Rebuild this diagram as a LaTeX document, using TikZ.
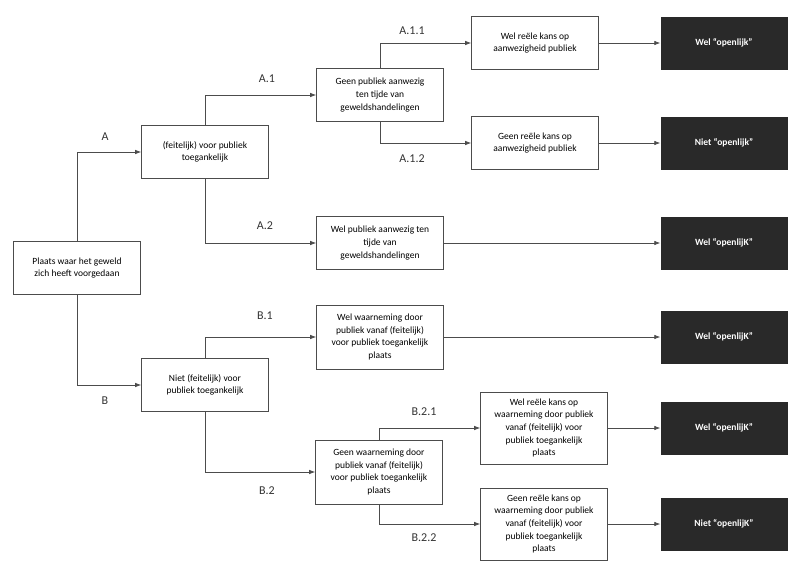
\documentclass[tikz,border=0pt]{standalone}
\usepackage{fontspec}
\setmainfont{Carlito}
\usetikzlibrary{arrows.meta}
\begin{document}
\begin{tikzpicture}
	[x=1pt,y=-1pt,
	every node/.style={font=\fontsize{9.5}{12.6}\selectfont},
	box/.style={draw=black!70,line width=0.7pt,fill=white,align=center,
		minimum width=127pt,minimum height=53pt,inner sep=2pt},
	result/.style={fill=black!84,text=white,minimum width=127pt,minimum height=53pt,
		font=\fontsize{9.5}{12.6}\selectfont\bfseries},
	tag/.style={font=\fontsize{12}{14}\selectfont,text=black!80},
	line/.style={draw=black!70,line width=0.7pt,-{Latex[length=6pt,width=4.5pt]}}]
		\useasboundingbox (0,0) rectangle (800,576);
		% boxes
		\node[box] (plaats) at (77,268) {Plaats waar het geweld\\zich heeft voorgedaan};
		\node[box] (a) at (205,152) {(feitelijk) voor publiek\\toegankelijk};
		\node[box] (a1) at (380,95) {Geen publiek aanwezig\\ten tijde van\\geweldshandelingen};
		\node[box] (a2) at (380,243) {Wel publiek aanwezig ten\\tijde van\\geweldshandelingen};
		\node[box] (a11) at (535,43) {Wel reële kans op\\aanwezigheid publiek};
		\node[box] (a12) at (535,143) {Geen reële kans op\\aanwezigheid publiek};
		\node[box] (b) at (205,385) {Niet (feitelijk) voor\\publiek toegankelijk};
		\node[box,minimum height=64pt] (b1) at (380,337) {Wel waarneming door\\publiek vanaf (feitelijk)\\voor publiek toegankelijk\\plaats};
		\node[box,minimum height=64pt] (b2) at (379,472) {Geen waarneming door\\publiek vanaf (feitelijk)\\voor publiek toegankelijk\\plaats};
		\node[box,minimum height=72pt] (b21) at (544,428) {Wel reële kans op\\waarneming door publiek\\vanaf (feitelijk) voor\\publiek toegankelijk\\plaats};
		\node[box,minimum height=72pt] (b22) at (544,524) {Geen reële kans op\\waarneming door publiek\\vanaf (feitelijk) voor\\publiek toegankelijk\\plaats};
		% results
		\node[result] (r1) at (724,43) {Wel “openlijk”};
		\node[result] (r2) at (724,143) {Niet “openlijk”};
		\node[result] (r3) at (724,243) {Wel “openlijK”};
		\node[result] (r4) at (724,337) {Wel “openlijK”};
		\node[result] (r5) at (724,428) {Wel “openlijK”};
		\node[result] (r6) at (724,524) {Niet “openlijK”};
		% labels
		\node[tag] (ta) at (105,137) {A};
		\node[tag] (tb) at (105,401) {B};
		\node[tag] (ta1) at (267,79) {A.1};
		\node[tag] (ta2) at (265,226) {A.2};
		\node[tag] (ta11) at (412,31) {A.1.1};
		\node[tag] (ta12) at (412,159) {A.1.2};
		\node[tag] (tb1) at (265,316) {B.1};
		\node[tag] (tb2) at (267,491) {B.2};
		\node[tag] (tb21) at (424,412) {B.2.1};
		\node[tag] (tb22) at (424,538) {B.2.2};
		% connectors
		\draw[line] (plaats.north) |- (a.west);
		\draw[line] (plaats.south) |- (b.west);
		\draw[line] (a.north) |- (a1.west);
		\draw[line] (a.south) |- (a2.west);
		\draw[line] (a1.north) |- (a11.west);
		\draw[line] (a1.south) |- (a12.west);
		\draw[line] (b.north) |- (b1.west);
		\draw[line] (b.south) |- (b2.west);
		\draw[line] (b2.north) |- (b21.west);
		\draw[line] (b2.south) |- (b22.west);
		\foreach \s/\r in {a11/r1,a12/r2,a2/r3,b1/r4,b21/r5,b22/r6}
			\draw[line] (\s.east) -- (\r.west);
	\end{tikzpicture}
\end{document}
